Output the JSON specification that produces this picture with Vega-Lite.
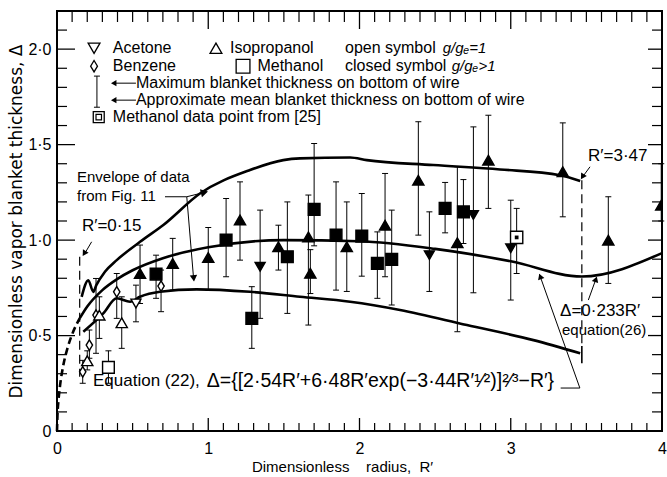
{
  "$schema": "https://vega.github.io/schema/vega-lite/v6.json",
  "width": 605,
  "height": 420,
  "autosize": {"type": "none"},
  "padding": {"left": 57, "top": 11, "right": 5, "bottom": 46},
  "background": "white",
  "config": {
    "font": "Liberation Sans",
    "view": {"stroke": "black", "strokeWidth": 2},
    "axis": {"domain": false, "grid": false, "ticks": false, "labelColor": "black", "titleColor": "black", "labelFont": "Liberation Sans", "titleFont": "Liberation Sans", "titleFontWeight": "normal", "labelFontSize": 16, "titleFontSize": 15},
    "text": {"font": "Liberation Sans", "fontSize": 15, "align": "left", "baseline": "middle", "fill": "black"},
    "tick": {"color": "black", "opacity": 1}
  },
  "resolve": {"axis": {"x": "independent", "y": "independent"}},
  "encoding": {
    "x": {"field": "r", "type": "quantitative", "scale": {"domain": [0, 4], "nice": false, "zero": false}, "axis": null},
    "y": {"field": "d", "type": "quantitative", "scale": {"domain": [0, 2.2], "nice": false, "zero": false}, "axis": null}
  },
  "datasets": {
    "xminor": [{"r":0.1,"d":0,"dt":2.2},{"r":0.2,"d":0,"dt":2.2},{"r":0.3,"d":0,"dt":2.2},{"r":0.4,"d":0,"dt":2.2},{"r":0.5,"d":0,"dt":2.2},{"r":0.6,"d":0,"dt":2.2},{"r":0.7,"d":0,"dt":2.2},{"r":0.8,"d":0,"dt":2.2},{"r":0.9,"d":0,"dt":2.2},{"r":1.1,"d":0,"dt":2.2},{"r":1.2,"d":0,"dt":2.2},{"r":1.3,"d":0,"dt":2.2},{"r":1.4,"d":0,"dt":2.2},{"r":1.5,"d":0,"dt":2.2},{"r":1.6,"d":0,"dt":2.2},{"r":1.7,"d":0,"dt":2.2},{"r":1.8,"d":0,"dt":2.2},{"r":1.9,"d":0,"dt":2.2},{"r":2.1,"d":0,"dt":2.2},{"r":2.2,"d":0,"dt":2.2},{"r":2.3,"d":0,"dt":2.2},{"r":2.4,"d":0,"dt":2.2},{"r":2.5,"d":0,"dt":2.2},{"r":2.6,"d":0,"dt":2.2},{"r":2.7,"d":0,"dt":2.2},{"r":2.8,"d":0,"dt":2.2},{"r":2.9,"d":0,"dt":2.2},{"r":3.1,"d":0,"dt":2.2},{"r":3.2,"d":0,"dt":2.2},{"r":3.3,"d":0,"dt":2.2},{"r":3.4,"d":0,"dt":2.2},{"r":3.5,"d":0,"dt":2.2},{"r":3.6,"d":0,"dt":2.2},{"r":3.7,"d":0,"dt":2.2},{"r":3.8,"d":0,"dt":2.2},{"r":3.9,"d":0,"dt":2.2}],
    "xmajor": [{"r":1,"d":0,"dt":2.2},{"r":2,"d":0,"dt":2.2},{"r":3,"d":0,"dt":2.2}],
    "yminor": [{"d":0.1,"r":0,"rr":4},{"d":0.2,"r":0,"rr":4},{"d":0.3,"r":0,"rr":4},{"d":0.4,"r":0,"rr":4},{"d":0.6,"r":0,"rr":4},{"d":0.7,"r":0,"rr":4},{"d":0.8,"r":0,"rr":4},{"d":0.9,"r":0,"rr":4},{"d":1.1,"r":0,"rr":4},{"d":1.2,"r":0,"rr":4},{"d":1.3,"r":0,"rr":4},{"d":1.4,"r":0,"rr":4},{"d":1.6,"r":0,"rr":4},{"d":1.7,"r":0,"rr":4},{"d":1.8,"r":0,"rr":4},{"d":1.9,"r":0,"rr":4},{"d":2.1,"r":0,"rr":4}],
    "ymajor": [{"d":0.5,"r":0,"rr":4},{"d":1,"r":0,"rr":4},{"d":1.5,"r":0,"rr":4},{"d":2,"r":0,"rr":4}],
    "pts": [
      {"sub": "Benzene", "g": "=1", "r": 0.17, "d": 0.31, "lo": 0.25, "hi": 0.37},
      {"sub": "Isopropanol", "g": "=1", "r": 0.2, "d": 0.368, "lo": 0.32, "hi": 0.42},
      {"sub": "Benzene", "g": "=1", "r": 0.214, "d": 0.45, "lo": 0.381, "hi": 0.529},
      {"sub": "Benzene", "g": "=1", "r": 0.258, "d": 0.607, "lo": 0.407, "hi": 0.799},
      {"sub": "Isopropanol", "g": "=1", "r": 0.28, "d": 0.607, "lo": 0.485, "hi": 0.703},
      {"sub": "Methanol", "g": "=1", "r": 0.34, "d": 0.333, "lo": 0.25, "hi": 0.42},
      {"sub": "Benzene", "g": "=1", "r": 0.395, "d": 0.729, "lo": 0.59, "hi": 0.825},
      {"sub": "Isopropanol", "g": "=1", "r": 0.428, "d": 0.567, "lo": 0.433, "hi": 0.703},
      {"sub": "Acetone", "g": "=1", "r": 0.522, "d": 0.668, "lo": 0.572, "hi": 0.764},
      {"sub": "Benzene", "g": "=1", "r": 0.688, "d": 0.759, "lo": 0.625, "hi": 0.843},
      {"sub": "Isopropanol", "g": ">1", "r": 0.549, "d": 0.825, "lo": 0.668, "hi": 0.974},
      {"sub": "Methanol", "g": ">1", "r": 0.655, "d": 0.822, "lo": 0.695, "hi": 0.921},
      {"sub": "Isopropanol", "g": ">1", "r": 0.765, "d": 0.878, "lo": 0.738, "hi": 1.009},
      {"sub": "Isopropanol", "g": ">1", "r": 1.0, "d": 0.909, "lo": 0.738, "hi": 1.066},
      {"sub": "Methanol", "g": ">1", "r": 1.118, "d": 1.0, "lo": 0.808, "hi": 1.218},
      {"sub": "Isopropanol", "g": ">1", "r": 1.21, "d": 1.105, "lo": 0.895, "hi": 1.305},
      {"sub": "Methanol", "g": ">1", "r": 1.288, "d": 0.59, "lo": 0.433, "hi": 0.756},
      {"sub": "Acetone", "g": ">1", "r": 1.343, "d": 0.86, "lo": 0.59, "hi": 1.157},
      {"sub": "Isopropanol", "g": ">1", "r": 1.464, "d": 0.965, "lo": 0.843, "hi": 1.078},
      {"sub": "Methanol", "g": ">1", "r": 1.523, "d": 0.913, "lo": 0.616, "hi": 1.2},
      {"sub": "Isopropanol", "g": ">1", "r": 1.662, "d": 1.017, "lo": 0.555, "hi": 1.236},
      {"sub": "Isopropanol", "g": ">1", "r": 1.675, "d": 0.826, "lo": 0.72, "hi": 0.95},
      {"sub": "Methanol", "g": ">1", "r": 1.7, "d": 1.161, "lo": 0.97, "hi": 1.506},
      {"sub": "Methanol", "g": ">1", "r": 1.845, "d": 1.026, "lo": 0.738, "hi": 1.305},
      {"sub": "Isopropanol", "g": ">1", "r": 1.916, "d": 0.965, "lo": 0.731, "hi": 1.2},
      {"sub": "Methanol", "g": ">1", "r": 2.015, "d": 1.021, "lo": 0.811, "hi": 1.244},
      {"sub": "Methanol", "g": ">1", "r": 2.118, "d": 0.878, "lo": 0.695, "hi": 1.043},
      {"sub": "Isopropanol", "g": ">1", "r": 2.169, "d": 1.078, "lo": 0.808, "hi": 1.349},
      {"sub": "Methanol", "g": ">1", "r": 2.213, "d": 0.899, "lo": 0.66, "hi": 1.157},
      {"sub": "Isopropanol", "g": ">1", "r": 2.389, "d": 1.314, "lo": 1.026, "hi": 1.62},
      {"sub": "Acetone", "g": ">1", "r": 2.462, "d": 0.921, "lo": 0.731, "hi": 1.148},
      {"sub": "Methanol", "g": ">1", "r": 2.566, "d": 1.166, "lo": 1.038, "hi": 1.302},
      {"sub": "Isopropanol", "g": ">1", "r": 2.647, "d": 0.986, "lo": 0.52, "hi": 1.384},
      {"sub": "Methanol", "g": ">1", "r": 2.687, "d": 1.148, "lo": 0.982, "hi": 1.317},
      {"sub": "Acetone", "g": ">1", "r": 2.753, "d": 1.131, "lo": 0.724, "hi": 1.593},
      {"sub": "Isopropanol", "g": ">1", "r": 2.852, "d": 1.419, "lo": 1.166, "hi": 1.654},
      {"sub": "Acetone", "g": ">1", "r": 3.0, "d": 0.957, "lo": 0.686, "hi": 1.209},
      {"sub": "Methanol [25]", "g": "ref", "r": 3.039, "d": 1.014, "lo": 0.825, "hi": 1.166},
      {"sub": "Isopropanol", "g": ">1", "r": 3.344, "d": 1.358, "lo": 1.122, "hi": 1.614},
      {"sub": "Isopropanol", "g": ">1", "r": 3.645, "d": 1.0, "lo": 0.773, "hi": 1.227},
      {"sub": "Isopropanol", "g": ">1", "r": 3.995, "d": 1.183, "lo": 1.1, "hi": 1.4}
    ],
    "curves": [
      {"c": "upper", "r": 0.163, "d": 0.703}, {"c": "upper", "r": 0.207, "d": 0.79}, {"c": "upper", "r": 0.24, "d": 0.729},
      {"c": "upper", "r": 0.26, "d": 0.764}, {"c": "upper", "r": 0.317, "d": 0.834}, {"c": "upper", "r": 0.395, "d": 0.895},
      {"c": "upper", "r": 0.549, "d": 0.991}, {"c": "upper", "r": 0.703, "d": 1.079}, {"c": "upper", "r": 0.945, "d": 1.244},
      {"c": "upper", "r": 1.276, "d": 1.367}, {"c": "upper", "r": 1.496, "d": 1.419}, {"c": "upper", "r": 1.607, "d": 1.428},
      {"c": "upper", "r": 1.938, "d": 1.433}, {"c": "upper", "r": 2.048, "d": 1.419}, {"c": "upper", "r": 2.488, "d": 1.393},
      {"c": "upper", "r": 2.929, "d": 1.37}, {"c": "upper", "r": 3.326, "d": 1.34}, {"c": "upper", "r": 3.459, "d": 1.31},
      {"c": "lower", "r": 0.174, "d": 0.52}, {"c": "lower", "r": 0.306, "d": 0.616}, {"c": "lower", "r": 0.395, "d": 0.695},
      {"c": "lower", "r": 0.483, "d": 0.677}, {"c": "lower", "r": 0.549, "d": 0.703}, {"c": "lower", "r": 0.681, "d": 0.729},
      {"c": "lower", "r": 0.924, "d": 0.742}, {"c": "lower", "r": 1.276, "d": 0.729}, {"c": "lower", "r": 1.607, "d": 0.703},
      {"c": "lower", "r": 1.938, "d": 0.677}, {"c": "lower", "r": 2.268, "d": 0.634}, {"c": "lower", "r": 2.71, "d": 0.555},
      {"c": "lower", "r": 3.15, "d": 0.476}, {"c": "lower", "r": 3.459, "d": 0.407},
      {"c": "eq22", "r": 0.15, "d": 0.59}, {"c": "eq22", "r": 0.2, "d": 0.652}, {"c": "eq22", "r": 0.3, "d": 0.738},
      {"c": "eq22", "r": 0.4, "d": 0.797}, {"c": "eq22", "r": 0.5, "d": 0.842}, {"c": "eq22", "r": 0.7, "d": 0.905},
      {"c": "eq22", "r": 1.0, "d": 0.962}, {"c": "eq22", "r": 1.5, "d": 1.0}, {"c": "eq22", "r": 2.0, "d": 0.994},
      {"c": "eq22", "r": 2.5, "d": 0.954}, {"c": "eq22", "r": 3.0, "d": 0.889}, {"c": "eq22", "r": 3.47, "d": 0.809},
      {"c": "eq22", "r": 4.0, "d": 0.932}
    ],
    "dashcurve": [
      {"r": 0.0, "d": 0.0}, {"r": 0.003, "d": 0.08}, {"r": 0.01, "d": 0.162}, {"r": 0.02, "d": 0.237},
      {"r": 0.04, "d": 0.337}, {"r": 0.07, "d": 0.436}, {"r": 0.1, "d": 0.506}, {"r": 0.15, "d": 0.59}
    ],
    "segs": [
      {"r": 0.714, "d": 1.227, "r2": 0.858, "d2": 1.227},
      {"r": 0.858, "d": 1.227, "r2": 0.975, "d2": 1.25},
      {"r": 0.858, "d": 1.227, "r2": 0.904, "d2": 0.79},
      {"r": 0.229, "d": 0.991, "r2": 0.18, "d2": 0.925},
      {"r": 3.524, "d": 1.384, "r2": 3.474, "d2": 1.33},
      {"r": 3.513, "d": 0.686, "r2": 3.565, "d2": 0.8},
      {"r": 3.33, "d": 0.225, "r2": 3.457, "d2": 0.225},
      {"r": 3.457, "d": 0.225, "r2": 3.19, "d2": 0.82},
      {"r": 0.37, "d": 1.822, "r2": 0.522, "d2": 1.822},
      {"r": 0.37, "d": 1.733, "r2": 0.522, "d2": 1.733}
    ]
  },
  "layer": [
    {
      "data": {"values": [{"r": 0, "d": 0}]},
      "mark": {"type": "point", "opacity": 0},
      "encoding": {
        "x": {"field": "r", "type": "quantitative", "scale": {"domain": [0, 4], "nice": false, "zero": false},
              "axis": {"orient": "bottom", "values": [0, 1, 2, 3, 4], "ticks": false, "labelPadding": 9, "labelFlush": false, "title": "Dimensionless\u00a0\u00a0\u00a0 radius,\u00a0 R\u2032", "titlePadding": 3, "titleFontSize": 15, "titleX": 285, "titleAlign": "center"}},
        "y": {"field": "d", "type": "quantitative", "scale": {"domain": [0, 2.2], "nice": false, "zero": false},
              "axis": {"orient": "left", "values": [0, 0.5, 1, 1.5, 2], "ticks": false, "labelPadding": 6, "labelFlush": false, "labelExpr": "datum.value == 0 ? '0' : replace(format(datum.value, '.1f'), '.', '\u00b7')", "title": "Dimensionless vapor blanket thickness, \u0394", "titlePadding": 2, "titleFontSize": 17, "titleFont": "DejaVu Sans"}}
      }
    },
    {
      "data": {"name": "xminor"},
      "mark": {"type": "tick", "orient": "vertical", "size": 16, "thickness": 1.2, "clip": true},
      "encoding": {}
    },
    {
      "data": {"name": "xmajor"},
      "mark": {"type": "tick", "orient": "vertical", "size": 26, "thickness": 1.3, "clip": true},
      "encoding": {}
    },
    {
      "data": {"name": "xminor"},
      "mark": {"type": "tick", "orient": "vertical", "size": 22, "thickness": 1.2, "clip": true},
      "encoding": {"y": {"field": "dt", "type": "quantitative", "scale": {"domain": [0, 2.2], "nice": false, "zero": false}, "axis": null}}
    },
    {
      "data": {"name": "xmajor"},
      "mark": {"type": "tick", "orient": "vertical", "size": 36, "thickness": 1.3, "clip": true},
      "encoding": {"y": {"field": "dt", "type": "quantitative", "scale": {"domain": [0, 2.2], "nice": false, "zero": false}, "axis": null}}
    },
    {
      "data": {"name": "yminor"},
      "mark": {"type": "tick", "orient": "horizontal", "size": 20, "thickness": 1.2, "clip": true},
      "encoding": {}
    },
    {
      "data": {"name": "ymajor"},
      "mark": {"type": "tick", "orient": "horizontal", "size": 36, "thickness": 1.3, "clip": true},
      "encoding": {}
    },
    {
      "data": {"name": "yminor"},
      "mark": {"type": "tick", "orient": "horizontal", "size": 20, "thickness": 1.2, "clip": true},
      "encoding": {"x": {"field": "rr", "type": "quantitative", "scale": {"domain": [0, 4], "nice": false, "zero": false}, "axis": null}}
    },
    {
      "data": {"name": "ymajor"},
      "mark": {"type": "tick", "orient": "horizontal", "size": 28, "thickness": 1.3, "clip": true},
      "encoding": {"x": {"field": "rr", "type": "quantitative", "scale": {"domain": [0, 4], "nice": false, "zero": false}, "axis": null}}
    },
    {
      "data": {"name": "curves"},
      "mark": {"type": "line", "color": "black", "strokeWidth": 2.6, "interpolate": "monotone"},
      "encoding": {"detail": {"field": "c"}}
    },
    {
      "data": {"name": "dashcurve"},
      "mark": {"type": "line", "color": "black", "strokeWidth": 2.6, "strokeDash": [7, 4], "interpolate": "monotone"},
      "encoding": {}
    },
    {
      "data": {"values": [{"r": 0.15, "d": 0.913, "d2": 0.284}, {"r": 3.47, "d": 1.314, "d2": 0.445}]},
      "mark": {"type": "rule", "color": "black", "strokeWidth": 1.2, "strokeDash": [9, 5]},
      "encoding": {"y2": {"field": "d2"}}
    },
    {
      "data": {"values": [{"r": 3.47, "d": 0.445, "d2": 0.355}]},
      "mark": {"type": "rule", "color": "black", "strokeWidth": 1.6},
      "encoding": {"y2": {"field": "d2"}}
    },
    {
      "data": {"name": "segs"},
      "mark": {"type": "rule", "color": "black", "strokeWidth": 1},
      "encoding": {"x2": {"field": "r2"}, "y2": {"field": "d2"}}
    },
    {
      "data": {"values": [{"r": 0.975, "d": 1.25}]},
      "mark": {"type": "point", "shape": "triangle-up", "angle": 76, "size": 70, "filled": true, "color": "black", "opacity": 1},
      "encoding": {}
    },
    {
      "data": {"values": [{"r": 0.904, "d": 0.8}]},
      "mark": {"type": "point", "shape": "triangle-up", "angle": 175, "size": 55, "filled": true, "color": "black", "opacity": 1},
      "encoding": {}
    },
    {
      "data": {"values": [{"r": 0.18, "d": 0.93}, {"r": 3.474, "d": 1.332}]},
      "mark": {"type": "point", "shape": "triangle-up", "angle": 212, "size": 45, "filled": true, "color": "black", "opacity": 1},
      "encoding": {}
    },
    {
      "data": {"values": [{"r": 3.563, "d": 0.795}]},
      "mark": {"type": "point", "shape": "triangle-up", "angle": 19, "size": 45, "filled": true, "color": "black", "opacity": 1},
      "encoding": {}
    },
    {
      "data": {"values": [{"r": 3.195, "d": 0.81}]},
      "mark": {"type": "point", "shape": "triangle-up", "angle": 340, "size": 45, "filled": true, "color": "black", "opacity": 1},
      "encoding": {}
    },
    {
      "data": {"values": [{"r": 0.375, "d": 1.822}, {"r": 0.375, "d": 1.733}]},
      "mark": {"type": "point", "shape": "triangle-left", "size": 40, "filled": true, "color": "black", "opacity": 1},
      "encoding": {}
    },
    {
      "data": {"values": [{"r": 0.264, "d": 1.859, "d2": 1.696}]},
      "mark": {"type": "rule", "color": "black", "strokeWidth": 1},
      "encoding": {"y2": {"field": "d2"}}
    },
    {
      "data": {"values": [{"r": 0.264, "d": 1.859}, {"r": 0.264, "d": 1.696}]},
      "mark": {"type": "tick", "orient": "horizontal", "size": 6, "thickness": 1},
      "encoding": {}
    },
    {
      "data": {"name": "pts"},
      "mark": {"type": "rule", "color": "black", "strokeWidth": 1},
      "encoding": {"y": {"field": "lo", "type": "quantitative", "scale": {"domain": [0, 2.2], "nice": false, "zero": false}, "axis": null}, "y2": {"field": "hi"}}
    },
    {
      "data": {"name": "pts"},
      "mark": {"type": "tick", "orient": "horizontal", "size": 6, "thickness": 1},
      "encoding": {"y": {"field": "hi", "type": "quantitative", "scale": {"domain": [0, 2.2], "nice": false, "zero": false}, "axis": null}}
    },
    {
      "data": {"name": "pts"},
      "mark": {"type": "tick", "orient": "horizontal", "size": 6, "thickness": 1},
      "encoding": {"y": {"field": "lo", "type": "quantitative", "scale": {"domain": [0, 2.2], "nice": false, "zero": false}, "axis": null}}
    },
    {
      "data": {"name": "pts"},
      "mark": {"type": "point", "stroke": "black", "strokeWidth": 1.4, "opacity": 1, "fillOpacity": 1, "clip": true},
      "encoding": {
        "shape": {"field": "sub", "type": "nominal", "legend": null, "scale": {"domain": ["Acetone", "Benzene", "Isopropanol", "Methanol", "Methanol [25]"], "range": ["triangle-down", "M0,-1L0.6,0L0,1L-0.6,0Z", "triangle-up", "square", "square"]}},
        "size": {"field": "sub", "type": "nominal", "legend": null, "scale": {"domain": ["Acetone", "Benzene", "Isopropanol", "Methanol", "Methanol [25]"], "range": [100, 150, 100, 85, 95]}},
        "fill": {"field": "g", "type": "nominal", "legend": null, "scale": {"domain": ["=1", ">1", "ref"], "range": ["white", "black", "white"]}}
      }
    },
    {
      "data": {"name": "pts"},
      "transform": [{"filter": "datum.sub == 'Methanol [25]'"}],
      "mark": {"type": "point", "shape": "square", "size": 14, "filled": true, "color": "black", "opacity": 1},
      "encoding": {}
    },
    {
      "data": {"values": [{"r": 0.245, "d": 2.005}]},
      "mark": {"type": "point", "shape": "triangle-down", "size": 140, "fill": "white", "stroke": "black", "strokeWidth": 1.3, "opacity": 1},
      "encoding": {}
    },
    {
      "data": {"values": [{"r": 1.051, "d": 2.005}]},
      "mark": {"type": "point", "shape": "triangle-up", "size": 140, "fill": "white", "stroke": "black", "strokeWidth": 1.3, "opacity": 1},
      "encoding": {}
    },
    {
      "data": {"values": [{"r": 0.245, "d": 1.911}]},
      "mark": {"type": "point", "shape": "M0,-1L0.6,0L0,1L-0.6,0Z", "size": 130, "fill": "white", "stroke": "black", "strokeWidth": 1.3, "opacity": 1},
      "encoding": {}
    },
    {
      "data": {"values": [{"r": 1.23, "d": 1.911}]},
      "mark": {"type": "point", "shape": "square", "size": 190, "fill": "white", "stroke": "black", "strokeWidth": 1.3, "opacity": 1},
      "encoding": {}
    },
    {
      "data": {"values": [{"r": 0.276, "d": 1.644}]},
      "mark": {"type": "point", "shape": "square", "size": 120, "fill": "white", "stroke": "black", "strokeWidth": 1.3, "opacity": 1},
      "encoding": {}
    },
    {
      "data": {"values": [{"r": 0.276, "d": 1.644}]},
      "mark": {"type": "point", "shape": "square", "size": 30, "fill": "white", "stroke": "black", "strokeWidth": 1.2, "opacity": 1},
      "encoding": {}
    },
    {
      "data": {"values": [
        {"r": 0.369, "d": 2.005, "t": "Acetone"},
        {"r": 1.144, "d": 2.005, "t": "Isopropanol"},
        {"r": 1.904, "d": 2.005, "t": "open symbol"},
        {"r": 0.369, "d": 1.911, "t": "Benzene"},
        {"r": 1.325, "d": 1.911, "t": "Methanol"},
        {"r": 1.904, "d": 1.911, "t": "closed symbol"},
        {"r": 0.522, "d": 1.822, "t": "Maximum blanket thickness on bottom of wire"},
        {"r": 0.522, "d": 1.733, "t": "Approximate mean blanket thickness on bottom of wire"},
        {"r": 0.369, "d": 1.644, "t": "Methanol data point from [25]"}
      ]},
      "mark": {"type": "text", "fontSize": 16},
      "encoding": {"text": {"field": "t"}}
    },
    {
      "data": {"values": [
        {"r": 0.132, "d": 1.33, "t": "Envelope of data"},
        {"r": 0.132, "d": 1.23, "t": "from Fig. 11"},
        {"r": 3.339, "d": 0.529, "t": "equation(26)"}
      ]},
      "mark": {"type": "text", "fontSize": 15},
      "encoding": {"text": {"field": "t"}}
    },
    {
      "data": {"values": [
        {"r": 2.55, "d": 2.005, "t": "g/g\u2091=1"},
        {"r": 2.61, "d": 1.911, "t": "g/g\u2091>1"}
      ]},
      "mark": {"type": "text", "fontSize": 15, "fontStyle": "italic"},
      "encoding": {"text": {"field": "t"}}
    },
    {
      "data": {"values": [
        {"r": 0.165, "d": 1.073, "t": "R\u2032=0\u00b715"},
        {"r": 3.511, "d": 1.44, "t": "R\u2032=3\u00b747"},
        {"r": 3.326, "d": 0.628, "t": "\u0394=0\u00b7233R\u2032"},
        {"r": 0.238, "d": 0.262, "t": "Equation (22),"}
      ]},
      "mark": {"type": "text", "fontSize": 17},
      "encoding": {"text": {"field": "t"}}
    },
    {
      "data": {"values": [
        {"r": 0.99, "d": 0.262, "t": "\u0394={[2\u00b754R\u2032+6\u00b748R\u2032exp(\u22123\u00b744R\u2032\u00b9\u2044\u00b2)]\u00b2\u2044\u00b3\u2212R\u2032}"}
      ]},
      "mark": {"type": "text", "fontSize": 19.5},
      "encoding": {"text": {"field": "t"}}
    }
  ]
}
